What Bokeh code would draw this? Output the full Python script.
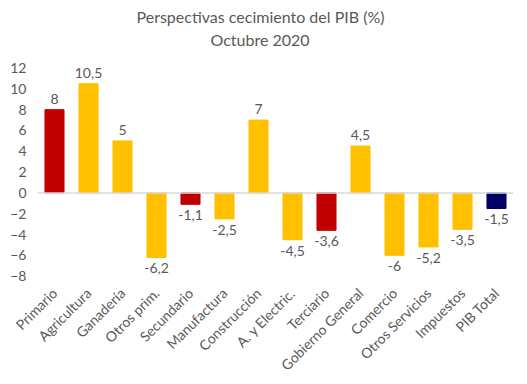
import math
from bokeh.plotting import figure
from bokeh.models import ColumnDataSource, Range1d, FactorRange, Span, Title, FixedTicker
from bokeh.embed import file_html
from bokeh.resources import INLINE
from bokeh.core.properties import value

categories = ["Primario", "Agricultura", "Ganadería", "Otros prim.", "Secundario",
              "Manufactura", "Construcción", "A. y Electric.", "Terciario",
              "Gobierno General", "Comercio", "Otros Servicios", "Impuestos", "PIB Total"]
values = [8, 10.5, 5, -6.2, -1.1, -2.5, 7, -4.5, -3.6, 4.5, -6, -5.2, -3.5, -1.5]
RED, YEL, NAVY = "#C00000", "#FFC000", "#000066"
colors = [RED, YEL, YEL, YEL, RED, YEL, YEL, YEL, RED, YEL, YEL, YEL, YEL, NAVY]
y_ticks = [-8, -6, -4, -2, 0, 2, 4, 6, 8, 10, 12]

def fmt(v):
    return ("%g" % v).replace(".", ",")

labels = [fmt(v) for v in values]

FONT = "Lato"
GRAY = "#595959"

p = figure(x_range=FactorRange(*categories, range_padding=0),
           y_range=Range1d(-8.23, 13.69),
           width=519, height=382, output_backend="svg", toolbar_location=None,
           min_border_left=37, min_border_right=6, min_border_top=50, min_border_bottom=90)
p.title.text = ""
p.add_layout(Title(text="Octubre 2020", align="left", text_font=FONT,
                   text_font_size="16px", text_font_style="normal", text_color=GRAY,
                   offset=173, standoff=4), "above")
p.add_layout(Title(text="Perspectivas cecimiento del PIB (%)", align="left", text_font=FONT,
                   text_font_size="16px", text_font_style="normal", text_color=GRAY,
                   offset=99, standoff=0), "above")

src = ColumnDataSource(dict(cat=categories, val=values, color=colors, label=labels))
p.vbar(x="cat", top="val", bottom=0, width=0.56, color="color", source=src)

p.add_layout(Span(location=0, dimension="width", line_color="#D9D9D9", line_width=1.5))

pos = [i for i, v in enumerate(values) if v >= 0]
neg = [i for i, v in enumerate(values) if v < 0]
src_pos = ColumnDataSource(dict(cat=[categories[i] for i in pos], val=[values[i] for i in pos],
                                label=[labels[i] for i in pos]))
src_neg = ColumnDataSource(dict(cat=[categories[i] for i in neg], val=[values[i] for i in neg],
                                label=[labels[i] for i in neg]))
p.text(x="cat", y="val", text="label", source=src_pos, text_align="center",
       text_baseline="bottom", y_offset=-6, text_font=value(FONT), text_font_size="14px",
       text_color=GRAY)
p.text(x="cat", y="val", text="label", source=src_neg, text_align="center",
       text_baseline="top", y_offset=6, text_font=value(FONT), text_font_size="14px",
       text_color=GRAY)

p.xgrid.visible = False
p.ygrid.visible = False
p.outline_line_color = None

p.yaxis.ticker = FixedTicker(ticks=y_ticks)
p.yaxis.axis_line_color = None
p.yaxis.major_tick_line_color = None
p.yaxis.minor_tick_line_color = None
p.yaxis.major_tick_out = 0
p.yaxis.minor_tick_out = 0
p.yaxis.major_label_standoff = 11
p.yaxis.major_label_text_font = FONT
p.yaxis.major_label_text_font_size = "14px"
p.yaxis.major_label_text_color = GRAY

p.xaxis.axis_line_color = None
p.xaxis.major_tick_line_color = None
p.xaxis.minor_tick_line_color = None
p.xaxis.major_tick_out = 0
p.xaxis.minor_tick_out = 0
p.xaxis.major_label_orientation = math.pi / 4
p.xaxis.major_label_standoff = 12
p.xaxis.major_label_text_font = FONT
p.xaxis.major_label_text_font_size = "14px"
p.xaxis.major_label_text_color = GRAY

open("out.html", "w").write(file_html(p, INLINE))
